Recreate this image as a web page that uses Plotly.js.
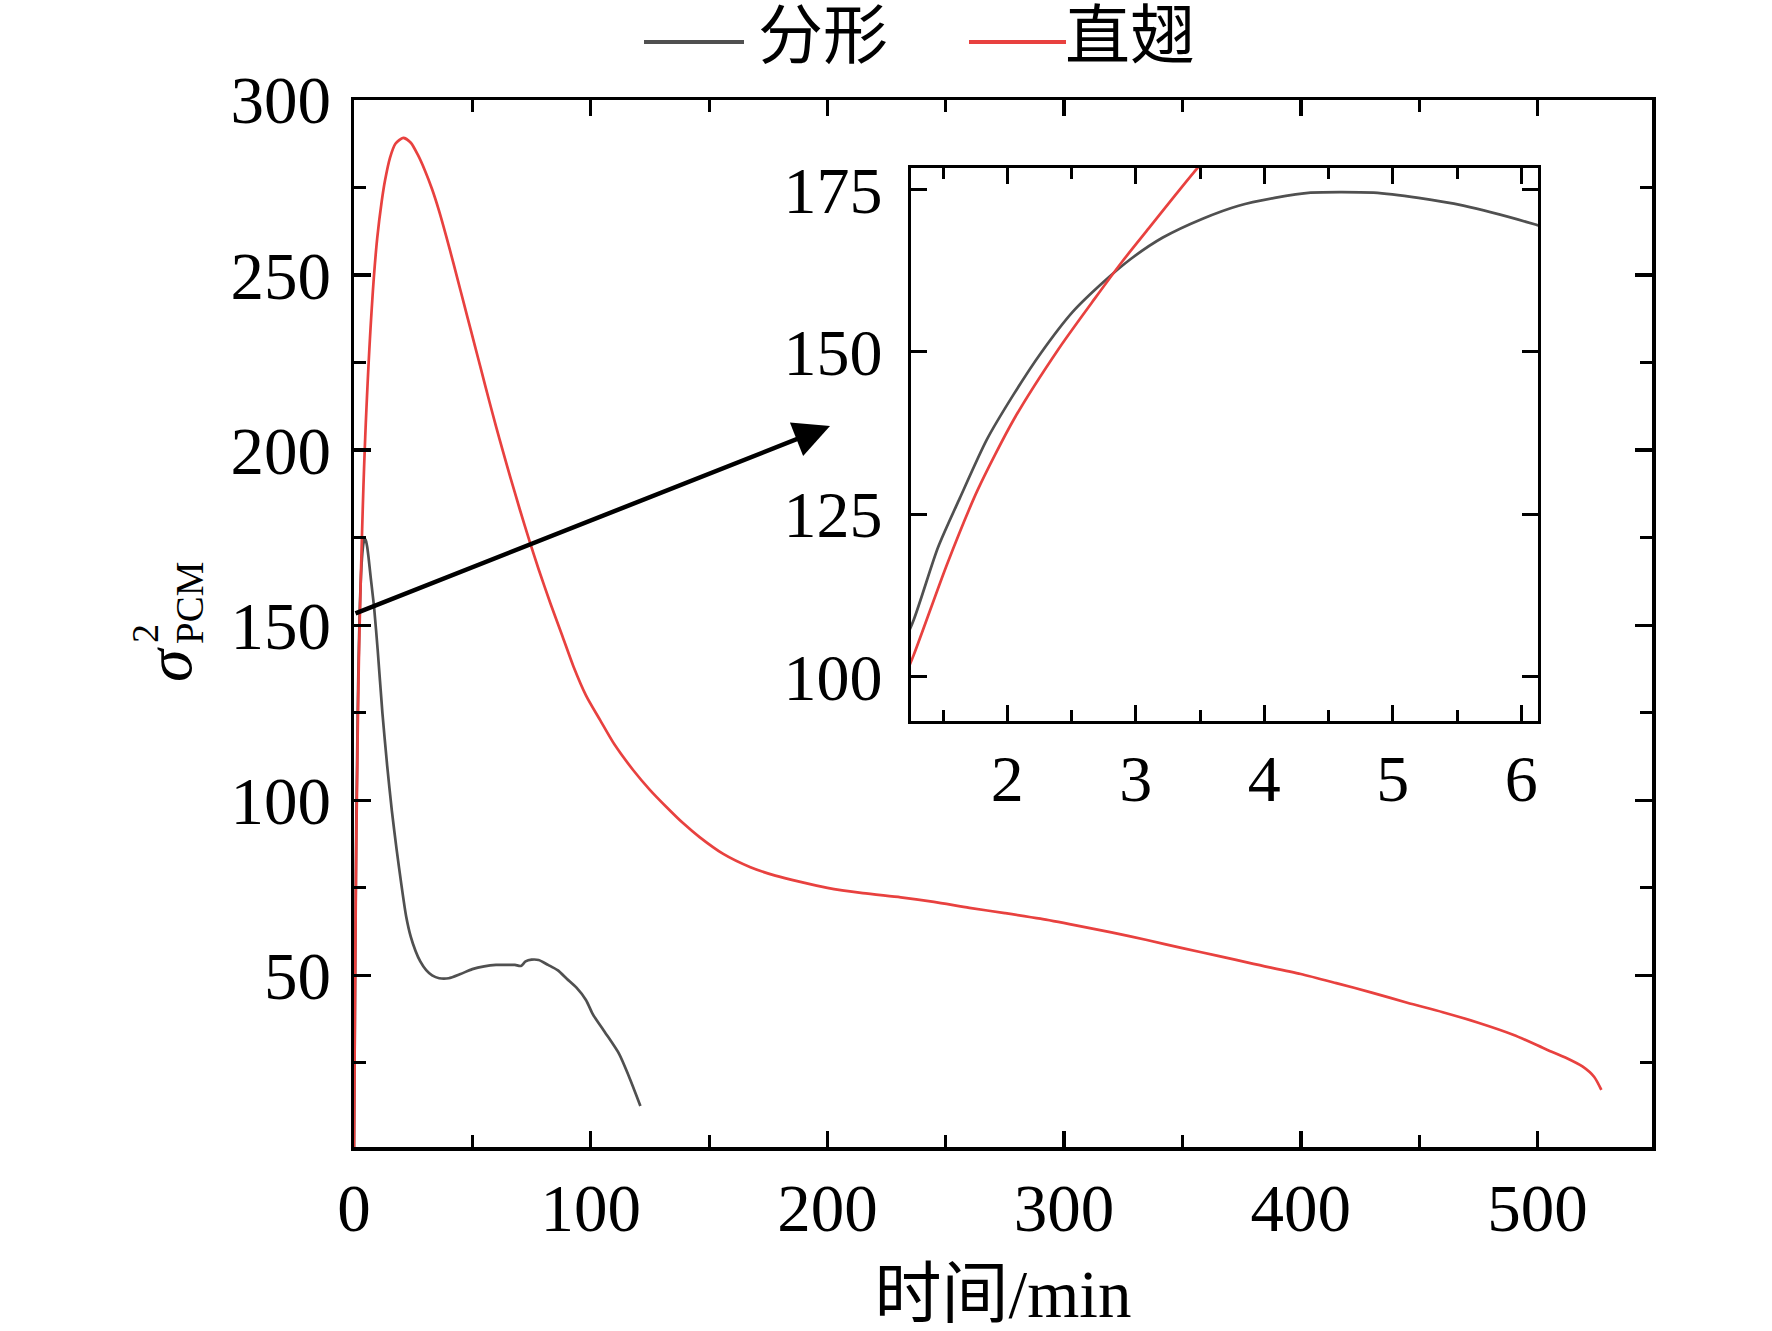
<!DOCTYPE html>
<html>
<head>
<meta charset="utf-8">
<script src="https://cdn.plot.ly/plotly-3.0.1.min.js"></script>
<style>
html,body{margin:0;padding:0;background:#fff;}
#chart{width:1772px;height:1331px;}
</style>
</head>
<body>
<div id="chart"></div>
<script>
// ---- data ----
const seriesNames = ["分形", "直翅"];
const fractalX = [0, 0.6, 1.0, 1.27, 1.46, 1.63, 1.84, 2.05, 2.26, 2.51, 2.75, 2.96, 3.21, 3.52, 3.80, 4.08, 4.36, 4.85, 5.20, 5.55, 6.11, 7.0, 8.5, 10, 12, 14, 16, 18, 20, 22, 24, 26, 28, 30.5, 33, 36, 40, 45, 50, 55, 60, 65, 68, 70.5, 72.5, 75, 78, 82, 86, 90, 94, 98, 101, 106, 112, 116, 121];
const fractalY = [0, 62, 96, 108.7, 119.9, 127.5, 136.5, 143.5, 149.8, 156.2, 160.8, 164.3, 167.6, 170.5, 172.5, 173.7, 174.5, 174.5, 173.7, 172.5, 169.6, 164, 155, 143, 125, 110, 97, 86, 76, 67, 61, 57, 54, 51.5, 50, 49.2, 49.2, 50.4, 51.8, 52.6, 53, 53, 53, 52.7, 54, 54.5, 54.4, 53, 51.5, 49, 46.5, 43, 38.8, 33.8, 27.6, 21.4, 12.7];
const straightX = [0, 0.5, 1.0, 1.27, 1.53, 1.77, 2.05, 2.40, 2.68, 2.89, 3.10, 3.31, 3.45, 4.0, 4.5, 5.0, 5.5, 6.0, 6.5, 7.0, 7.5, 8.4, 9.8, 11.7, 13.1, 15.2, 17.5, 20.8, 24, 27, 30, 33, 36, 39, 42, 45, 48, 51, 54, 57, 60, 63, 66, 70, 74.5, 78, 83, 88, 92.8, 98, 104, 110, 118, 125, 132, 139, 146, 156, 167.5, 178, 188.6, 200, 215, 231, 245, 260, 275, 290, 305, 320, 335, 350, 365, 380, 400, 415, 430, 445, 460, 475, 490, 504, 512, 519, 524, 527];
const straightY = [0, 50, 90, 103.3, 117.3, 128.8, 139.6, 150.5, 158.2, 163.8, 169, 174.2, 177.6, 190, 199.5, 208, 215.5, 222.5, 229, 235, 240.5, 249.5, 260.5, 271, 277, 283.5, 287.5, 289.2, 287.8, 284.3, 279.8, 274.5, 268.2, 261, 253.4, 245.6, 237.8, 230, 222.2, 214.4, 206.8, 199.5, 192.4, 183.2, 173.3, 166, 156.2, 147, 138.1, 130, 122.9, 116, 108.6, 103, 98.1, 93.5, 89.5, 84.7, 80.9, 78.5, 76.7, 75, 73.5, 72.3, 71, 69.3, 67.8, 66.2, 64.3, 62.3, 60.1, 57.8, 55.6, 53.3, 50.4, 47.8, 45.1, 42.2, 39.5, 36.5, 33, 28.8, 26.5, 24, 21, 17.3];
const mainYTicks = [50, 100, 150, 200, 250, 300];
const insetYTicks = [100, 125, 150, 175];
const xTitle = "时间/min";

// ---- layout geometry (pixels) ----
const L = 354, R = 1652, T = 100, B = 1147;
const W = R - L, H = B - T;
const px = v => (v - L) / W;
const py = v => (B - v) / H;

const colors = ["#505050", "#e8413f"];
const serif = "'Liberation Serif', 'Times New Roman', 'Noto Sans CJK SC', serif";
const lineStyle = c => ({color: c, width: 2.7, shape: "spline", smoothing: 0.7});

const traces = [
  {x: fractalX, y: fractalY, name: seriesNames[0], type: "scatter", mode: "lines",
   line: lineStyle(colors[0]), xaxis: "x", yaxis: "y"},
  {x: straightX, y: straightY, name: seriesNames[1], type: "scatter", mode: "lines",
   line: lineStyle(colors[1]), xaxis: "x", yaxis: "y"},
  {x: fractalX, y: fractalY, name: seriesNames[0], type: "scatter", mode: "lines",
   line: lineStyle(colors[0]), xaxis: "x2", yaxis: "y2", showlegend: false},
  {x: straightX, y: straightY, name: seriesNames[1], type: "scatter", mode: "lines",
   line: lineStyle(colors[1]), xaxis: "x2", yaxis: "y2", showlegend: false}
];

const axisCommon = {
  showline: true, linecolor: "#000", linewidth: 3.5, mirror: "ticks",
  ticks: "inside", tickcolor: "#000", tickwidth: 3.5,
  showgrid: false, zeroline: false,
  tickfont: {family: serif, size: 67, color: "#000"}
};

const layout = {
  width: 1772, height: 1331,
  paper_bgcolor: "#fff", plot_bgcolor: "rgba(0,0,0,0)",
  margin: {l: L, r: 1772 - R, t: T, b: 1331 - B, pad: 0},
  showlegend: false,
  xaxis: Object.assign({}, axisCommon, {
    domain: [0, 1], range: [0, 548.4], tick0: 0, dtick: 100, ticklen: 16,
    minor: {ticks: "inside", ticklen: 12, tickwidth: 3, dtick: 50, tickcolor: "#000"},
    ticklabelstandoff: 0,
    title: {text: xTitle, font: {family: serif, size: 67, color: "#000"}, standoff: 28}
  }),
  yaxis: Object.assign({}, axisCommon, {
    domain: [0, 1], range: [1, 300], tickmode: "array", tickvals: mainYTicks, ticklen: 17,
    minor: {ticks: "inside", ticklen: 12, tickwidth: 3, dtick: 25, tickcolor: "#000"},
    ticklabelstandoff: 6
  }),
  xaxis2: Object.assign({}, axisCommon, {
    anchor: "y2", domain: [px(911), px(1538)], range: [1.25, 6.13], tick0: 0, dtick: 1,
    ticklen: 16, linewidth: 3.2, tickwidth: 3,
    minor: {ticks: "inside", ticklen: 11, tickwidth: 3, dtick: 0.5, tickcolor: "#000"},
    tickfont: {family: serif, size: 66, color: "#000"}, ticklabelstandoff: -2
  }),
  yaxis2: Object.assign({}, axisCommon, {
    anchor: "x2", domain: [py(721), py(168)], range: [93.2, 178.3], tickmode: "array",
    tickvals: insetYTicks, ticklen: 16, linewidth: 3.2, tickwidth: 3,
    tickfont: {family: serif, size: 66, color: "#000"}, ticklabelstandoff: 12
  }),
  shapes: [
    {type: "line", xref: "paper", yref: "paper", x0: px(644), x1: px(744), y0: py(42), y1: py(42),
     line: {color: colors[0], width: 4}},
    {type: "line", xref: "paper", yref: "paper", x0: px(969), x1: px(1066), y0: py(42), y1: py(42),
     line: {color: colors[1], width: 4}}
  ],
  annotations: [
    {xref: "paper", yref: "paper", x: px(756), y: py(36), xanchor: "left", yanchor: "middle",
     text: seriesNames[0], showarrow: false, font: {family: serif, size: 65, color: "#000"}},
    {xref: "paper", yref: "paper", x: px(1063), y: py(36), xanchor: "left", yanchor: "middle",
     text: seriesNames[1], showarrow: false, font: {family: serif, size: 65, color: "#000"}},
    // y-axis title: sigma with stacked superscript 2 and subscript PCM
    {xref: "paper", yref: "paper", x: px(168), y: py(665), xanchor: "center", yanchor: "middle",
     text: "<i>σ</i>", textangle: -90, showarrow: false, font: {family: serif, size: 66, color: "#000"}},
    {xref: "paper", yref: "paper", x: px(145), y: py(634), xanchor: "center", yanchor: "middle",
     text: "2", textangle: -90, showarrow: false, font: {family: serif, size: 38, color: "#000"}},
    {xref: "paper", yref: "paper", x: px(189), y: py(603), xanchor: "center", yanchor: "middle",
     text: "PCM", textangle: -90, showarrow: false, font: {family: serif, size: 39, color: "#000"}},
    // zoom arrow
    {xref: "paper", yref: "paper", x: px(830), y: py(426), text: "", showarrow: true,
     axref: "pixel", ayref: "pixel", ax: 354 - 830, ay: 614 - 426,
     arrowhead: 2, arrowsize: 1.6, arrowwidth: 4.5, arrowcolor: "#000", standoff: 0, startstandoff: 0}
  ]
};

Plotly.newPlot("chart", traces, layout, {displayModeBar: false, staticPlot: true});
</script>
</body>
</html>
